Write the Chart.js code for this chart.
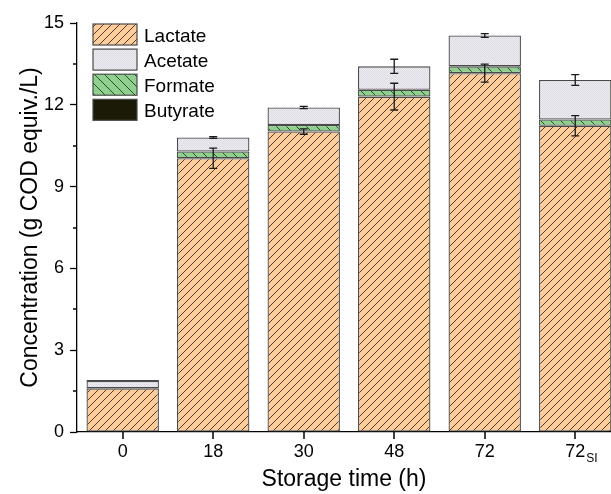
<!DOCTYPE html>
<html>
<head>
<meta charset="utf-8">
<script src="https://cdn.jsdelivr.net/npm/chart.js@4/dist/chart.umd.min.js"></script>
<style>
  html, body { margin: 0; padding: 0; background: #fff; }
  #wrap { width: 611px; height: 494px; position: relative; }
</style>
</head>
<body>
<div id="wrap"><canvas id="c"></canvas></div>
<script>
// ---- data ----
const categories = ['0', '18', '30', '48', '72', '72'];
const categorySubscripts = ['', '', '', '', '', 'SI'];
const lactate  = [1.60, 10.04, 11.02, 12.30, 13.16, 11.23];
const formate  = [0.00, 0.25, 0.24, 0.25, 0.25, 0.23];
const acetate  = [0.27, 0.51, 0.64, 0.86, 1.13, 1.45];
const butyrate = [0.04, 0.00, 0.00, 0.00, 0.00, 0.00];
const lactateErr = [0.00, 0.37, 0.10, 0.49, 0.33, 0.37];
const acetateErr = [0.00, 0.03, 0.04, 0.26, 0.07, 0.20];
const yTicks = [0, 3, 6, 9, 12, 15];
const yMinorTicks = [1.5, 4.5, 7.5, 10.5, 13.5];
const legendOrder = ['Lactate', 'Acetate', 'Formate', 'Butyrate'];

const FONT = '"Liberation Sans", Arial, Helvetica, sans-serif';

function hatch(bg, line, dir, size, lw) {
  const c = document.createElement('canvas');
  c.width = size; c.height = size;
  const g = c.getContext('2d');
  g.fillStyle = bg; g.fillRect(0, 0, size, size);
  g.strokeStyle = line; g.lineWidth = lw;
  g.beginPath();
  for (let k = -1; k <= 1; k++) {
    if (dir === '/') { g.moveTo(k * size, size); g.lineTo(k * size + size, 0); }
    else { g.moveTo(k * size, 0); g.lineTo(k * size + size, size); }
  }
  g.stroke();
  return g.createPattern(c, 'repeat');
}
function stipple() {
  const c = document.createElement('canvas');
  c.width = 2; c.height = 2;
  const g = c.getContext('2d');
  g.fillStyle = '#EEEDF2'; g.fillRect(0, 0, 2, 2);
  g.fillStyle = '#DCDAE3';
  g.fillRect(0, 0, 1, 1); g.fillRect(1, 1, 1, 1);
  return g.createPattern(c, 'repeat');
}

const fills = {
  Lactate: hatch('#FECC99', '#3a3128', '/', 8, 0.9),
  Formate: hatch('#8FD08F', '#24401f', '\\', 10, 0.9),
  Acetate: stipple(),
  Butyrate: '#1B1A06'
};

const pts = arr => arr.map((v, i) => ({ x: i, y: v }));
const mkDs = (label, arr) => ({
  label, data: pts(arr),
  backgroundColor: fills[label],
  borderColor: '#4a4a4a', borderWidth: 1.3, borderSkipped: false,
  barPercentage: 0.8, categoryPercentage: 1.0
});

const errorBars = {
  id: 'errorBars',
  afterDatasetsDraw(chart) {
    const { ctx } = chart;
    const xs = chart.scales.x, ys = chart.scales.y;
    ctx.save();
    ctx.strokeStyle = '#1a1a1a';
    ctx.lineWidth = 1.3;
    const cap = 4;
    const draw = (xv, center, err) => {
      if (!err) return;
      const x = xs.getPixelForValue(xv);
      const y1 = ys.getPixelForValue(center + err);
      const y2 = ys.getPixelForValue(center - err);
      ctx.beginPath();
      ctx.moveTo(x, y1); ctx.lineTo(x, y2);
      ctx.moveTo(x - cap, y1); ctx.lineTo(x + cap, y1);
      ctx.moveTo(x - cap, y2); ctx.lineTo(x + cap, y2);
      ctx.stroke();
    };
    lactate.forEach((v, i) => {
      draw(i, v, lactateErr[i]);
      draw(i, v + formate[i] + acetate[i], acetateErr[i]);
    });
    ctx.restore();
  }
};

const decorations = {
  id: 'decorations',
  afterDraw(chart) {
    const { ctx } = chart;
    const xs = chart.scales.x, ys = chart.scales.y;
    const base = ys.getPixelForValue(0);
    const axisX = xs.left;
    ctx.save();
    ctx.fillStyle = '#000';
    // minor y ticks
    yMinorTicks.forEach(v => {
      const y = Math.round(ys.getPixelForValue(v));
      ctx.fillRect(axisX - 4, y - 0.75, 4, 1.5);
    });
    // x category tick marks
    categories.forEach((c, i) => {
      const x = Math.round(xs.getPixelForValue(i));
      ctx.fillRect(x - 0.75, base, 1.5, 7);
    });
    // x category labels (with subscripts)
    ctx.textBaseline = 'alphabetic';
    categories.forEach((c, i) => {
      const x = xs.getPixelForValue(i);
      ctx.font = '18px ' + FONT;
      ctx.textAlign = 'center';
      ctx.fillText(c, x, 457);
      if (categorySubscripts[i]) {
        const w = ctx.measureText(c).width;
        ctx.font = '12px ' + FONT;
        ctx.textAlign = 'left';
        ctx.fillText(categorySubscripts[i], x + w / 2 + 1, 462);
      }
    });
    // legend
    legendOrder.forEach((name, i) => {
      const bx = 93, by = 24 + i * 25.1, bw = 44, bh = 21;
      ctx.fillStyle = fills[name];
      ctx.fillRect(bx, by, bw, bh);
      ctx.strokeStyle = '#4a4a4a'; ctx.lineWidth = 1.2;
      ctx.strokeRect(bx, by, bw, bh);
      ctx.fillStyle = '#000';
      ctx.font = '19px ' + FONT;
      ctx.textAlign = 'left';
      ctx.fillText(name, 144, by + 17.5);
    });
    ctx.restore();
  }
};

new Chart(document.getElementById('c'), {
  type: 'bar',
  data: {
    datasets: [
      mkDs('Lactate', lactate),
      mkDs('Formate', formate),
      mkDs('Acetate', acetate),
      mkDs('Butyrate', butyrate)
    ]
  },
  options: {
    responsive: true,
    maintainAspectRatio: false,
    animation: false,
    devicePixelRatio: 1,
    layout: { padding: { top: 23, left: 0, right: 0, bottom: 0 } },
    plugins: { legend: { display: false }, tooltip: { enabled: false } },
    scales: {
      x: {
        type: 'linear', stacked: true, offset: false,
        min: -0.505, max: 5.395,
        afterBuildTicks: s => { s.ticks = categories.map((_, i) => ({ value: i })); },
        afterFit: s => { s.height = 62; },
        ticks: { display: false },
        grid: { offset: false, drawOnChartArea: false, drawTicks: false },
        border: { display: true, color: '#000', width: 1.3 },
        title: {
          display: true, text: 'Storage time (h)', color: '#000',
          font: { family: FONT, size: 23 }, padding: { top: 0, bottom: 1 }
        }
      },
      y: {
        stacked: true, min: 0, max: 15,
        afterBuildTicks: s => { s.ticks = yTicks.map(v => ({ value: v })); },
        afterFit: s => { s.width = 77; },
        ticks: { color: '#000', font: { family: FONT, size: 18 }, padding: 6 },
        grid: { drawOnChartArea: false, drawTicks: true, tickLength: 7, tickColor: '#000', tickWidth: 1.3 },
        border: { display: true, color: '#000', width: 1.3 },
        title: {
          display: true, text: 'Concentration (g COD equiv./L)', color: '#000',
          font: { family: FONT, size: 23 }, padding: { top: 17, bottom: 0 }
        }
      }
    }
  },
  plugins: [errorBars, decorations]
});
</script>
</body>
</html>
